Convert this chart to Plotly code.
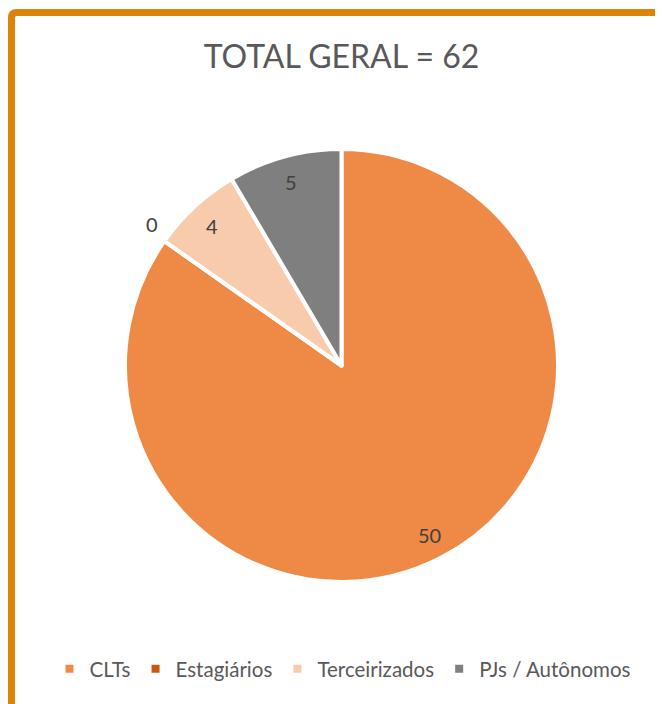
import math
import plotly.graph_objects as go

categories = ["CLTs", "Estagiários", "Terceirizados", "PJs / Autônomos"]
values = [50, 0, 4, 5]
colors = ["#EF8A46", "#C55A11", "#F8CBAD", "#7F7F7F"]
title_text = "TOTAL GERAL = 62"

W, H = 663, 704
OFF = 8  # page body margin
CX, CY, R = 341.5 - OFF, 365.5 - OFF, 216.5  # pie centre / radius in px (paper)

fig = go.Figure(go.Pie(
    labels=categories,
    values=values,
    sort=False,
    direction="clockwise",
    rotation=0,
    marker=dict(colors=colors, line=dict(color="white", width=4)),
    textinfo="none",
    hoverinfo="label+value",
    domain=dict(x=[(CX - R) / W, (CX + R) / W], y=[1 - (CY + R) / H, 1 - (CY - R) / H]),
))

# data labels placed at slice mid-angles
total = sum(values)
cum = 0
annotations = []
for lab, v in zip(categories, values):
    mid = (cum + v / 2) / total * 2 * math.pi
    cum += v
    inside = v > 0
    f = 0.88 if inside else 1.09
    px = CX + R * f * math.sin(mid)
    py = CY - R * f * math.cos(mid)
    annotations.append(dict(
        x=px / W, y=1 - py / H, xref="paper", yref="paper",
        text=str(v), showarrow=False,
        font=dict(family="Lato, Carlito, sans-serif", size=20, color="#404040"),
        xanchor="center", yanchor="middle",
        xshift=0 if inside else 4, yshift=0 if inside else 6,
    ))

# orange frame (left + top, running off the page)
x0 = 3.5 / W
y0 = 1 - 4.5 / H
rx = 5 / W
ry = 5 / H
frame_path = (f"M {x0},-0.1 L {x0},{y0 - ry} Q {x0},{y0} {x0 + rx},{y0} L 1.1,{y0}")

fig.update_layout(
    width=W, height=H,
    margin=dict(l=0, r=0, t=0, b=0),
    paper_bgcolor="white",
    plot_bgcolor="white",
    title=dict(
        text=title_text,
        x=CX / W, xanchor="center",
        y=1 - 49 / H, yanchor="middle",
        font=dict(family="Lato, Carlito, sans-serif", size=32, color="#595959"),
    ),
    legend=dict(
        orientation="h",
        x=(343 - OFF) / W, xanchor="center",
        y=1 - (669 - OFF) / H, yanchor="middle",
        font=dict(family="Lato, Carlito, sans-serif", size=20.5, color="#595959"),
        itemclick=False,
    ),
    showlegend=True,
    annotations=annotations,
    shapes=[dict(type="path", path=frame_path, xref="paper", yref="paper",
                 line=dict(color="#DE8309", width=7))],
)

fig.write_html("out.html")
